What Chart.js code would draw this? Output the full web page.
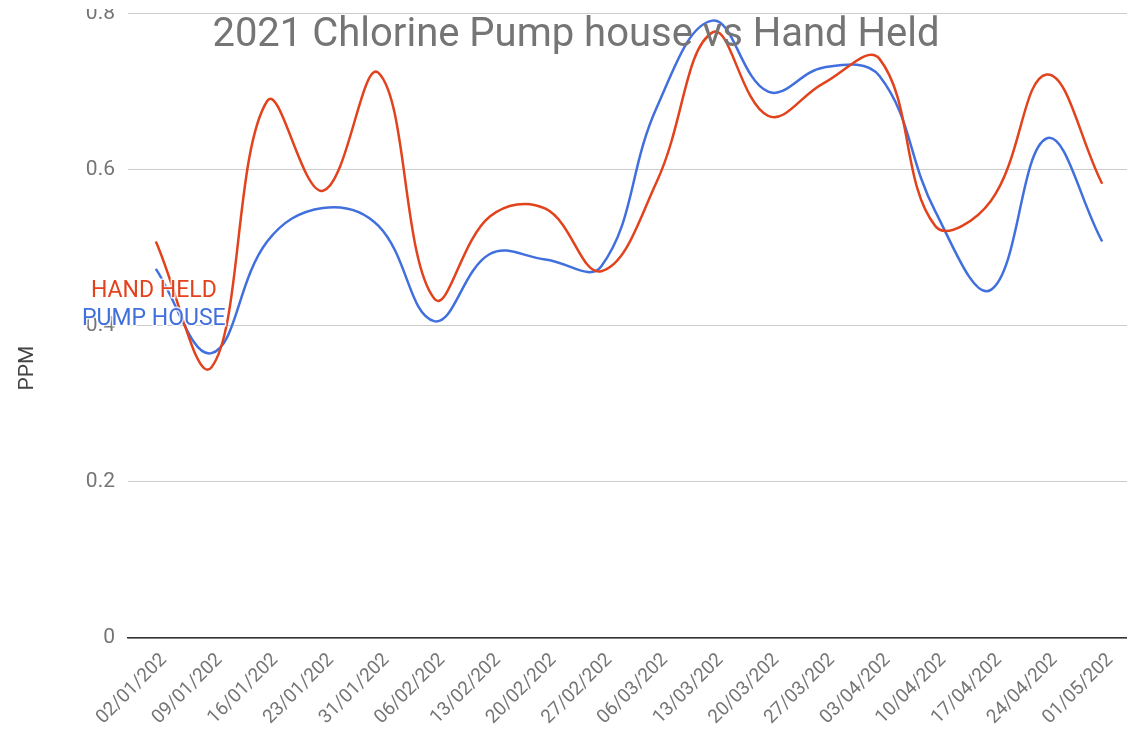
<!DOCTYPE html>
<html lang="en">
<head>
    <meta charset="UTF-8">
    <title>2021 Chlorine Pump house vs Hand Held</title>
    <script src="https://cdn.jsdelivr.net/npm/chart.js@4.4.0/dist/chart.umd.min.js"></script>
    <style>
        html, body { margin: 0; padding: 0; overflow: hidden; background: #fff; width: 1127px; height: 743px; }
        #wrap { position: absolute; left: 0; top: -12px; }
        /* the original picture is cut just above the 0.8 line */
        #cut { position: absolute; left: 0; top: 0; width: 1127px; height: 9px; background: #fff; }
    </style>
</head>
<body>
<div id="wrap">
    <canvas id="lineChart" width="1130" height="755"></canvas>
</div>
<div id="cut"></div>
<script>
    const chartTitle = '2021 Chlorine Pump house vs Hand Held';
    const yTitle = 'PPM';
    const dates = ['02/01/202', '09/01/202', '16/01/202', '23/01/202', '31/01/202', '06/02/202',
        '13/02/202', '20/02/202', '27/02/202', '06/03/202', '13/03/202', '20/03/202',
        '27/03/202', '03/04/202', '10/04/202', '17/04/202', '24/04/202', '01/05/202'];
    const handHeld = [0.508, 0.347, 0.688, 0.573, 0.724, 0.435, 0.540, 0.550, 0.470, 0.585,
        0.776, 0.669, 0.711, 0.742, 0.528, 0.560, 0.722, 0.582];
    const pumpHouse = [0.473, 0.365, 0.508, 0.551, 0.528, 0.406, 0.492, 0.485, 0.476, 0.680,
        0.791, 0.700, 0.731, 0.720, 0.547, 0.446, 0.640, 0.508];
    const yTicks = [0, 0.2, 0.4, 0.6, 0.8];

    const red = '#e2421c';
    const blue = '#4170de';

    // title, axis title and series labels drawn on top, like the sheet chart
    const overlayText = {
        id: 'overlayText',
        afterDatasetsDraw(chart) {
            const ctx = chart.ctx;
            ctx.save();
            ctx.textAlign = 'center';
            ctx.textBaseline = 'middle';
            ctx.font = '23px Roboto';
            chart.data.datasets.forEach((ds, i) => {
                const p = chart.getDatasetMeta(i).data[0];
                const ty = p.y + 50;
                ctx.lineWidth = 3;
                ctx.strokeStyle = 'rgba(255,255,255,0.8)';
                ctx.strokeText(ds.label, p.x - 2, ty);
                ctx.fillStyle = ds.borderColor;
                ctx.fillText(ds.label, p.x - 2, ty);
            });
            ctx.font = '40px Roboto';
            ctx.fillStyle = '#757575';
            ctx.fillText(chartTitle, 576, 48);

            ctx.translate(28, 380);
            ctx.rotate(-Math.PI / 2);
            ctx.font = '21px Roboto';
            ctx.fillStyle = '#444';
            ctx.fillText(yTitle, 0, 0);
            ctx.restore();
        }
    };

    new Chart(document.getElementById('lineChart'), {
        type: 'line',
        data: {
            labels: dates,
            datasets: [{
                label: 'HAND HELD',
                data: handHeld,
                borderColor: red,
                backgroundColor: red,
                borderWidth: 2.5,
                pointRadius: 0,
                tension: 0.4
            }, {
                label: 'PUMP HOUSE',
                data: pumpHouse,
                borderColor: blue,
                backgroundColor: blue,
                borderWidth: 2.5,
                pointRadius: 0,
                tension: 0.4
            }]
        },
        options: {
            responsive: false,
            animation: false,
            layout: {padding: {top: 10, right: 0, left: 0, bottom: 0}},
            plugins: {
                legend: {display: false},
                tooltip: {enabled: false},
                title: {display: false}
            },
            scales: {
                x: {
                    offset: true,
                    grid: {display: false},
                    border: {display: true, color: '#333', width: 1.5},
                    ticks: {
                        color: '#757575',
                        font: {family: 'Roboto', size: 19},
                        maxRotation: 45,
                        minRotation: 45,
                        autoSkip: false,
                        labelOffset: 8
                    },
                    afterFit(s) { s.height = 105; }
                },
                y: {
                    min: 0,
                    max: 0.8,
                    afterBuildTicks(s) { s.ticks = yTicks.map(v => ({value: v})); },
                    grid: {color: '#cccccc', lineWidth: 1, drawTicks: false},
                    border: {display: false},
                    ticks: {
                        color: '#757575',
                        font: {family: 'Roboto', size: 21},
                        padding: 13
                    },
                    afterFit(s) { s.width = 128; }
                }
            }
        },
        plugins: [overlayText]
    });
</script>
</body>
</html>
